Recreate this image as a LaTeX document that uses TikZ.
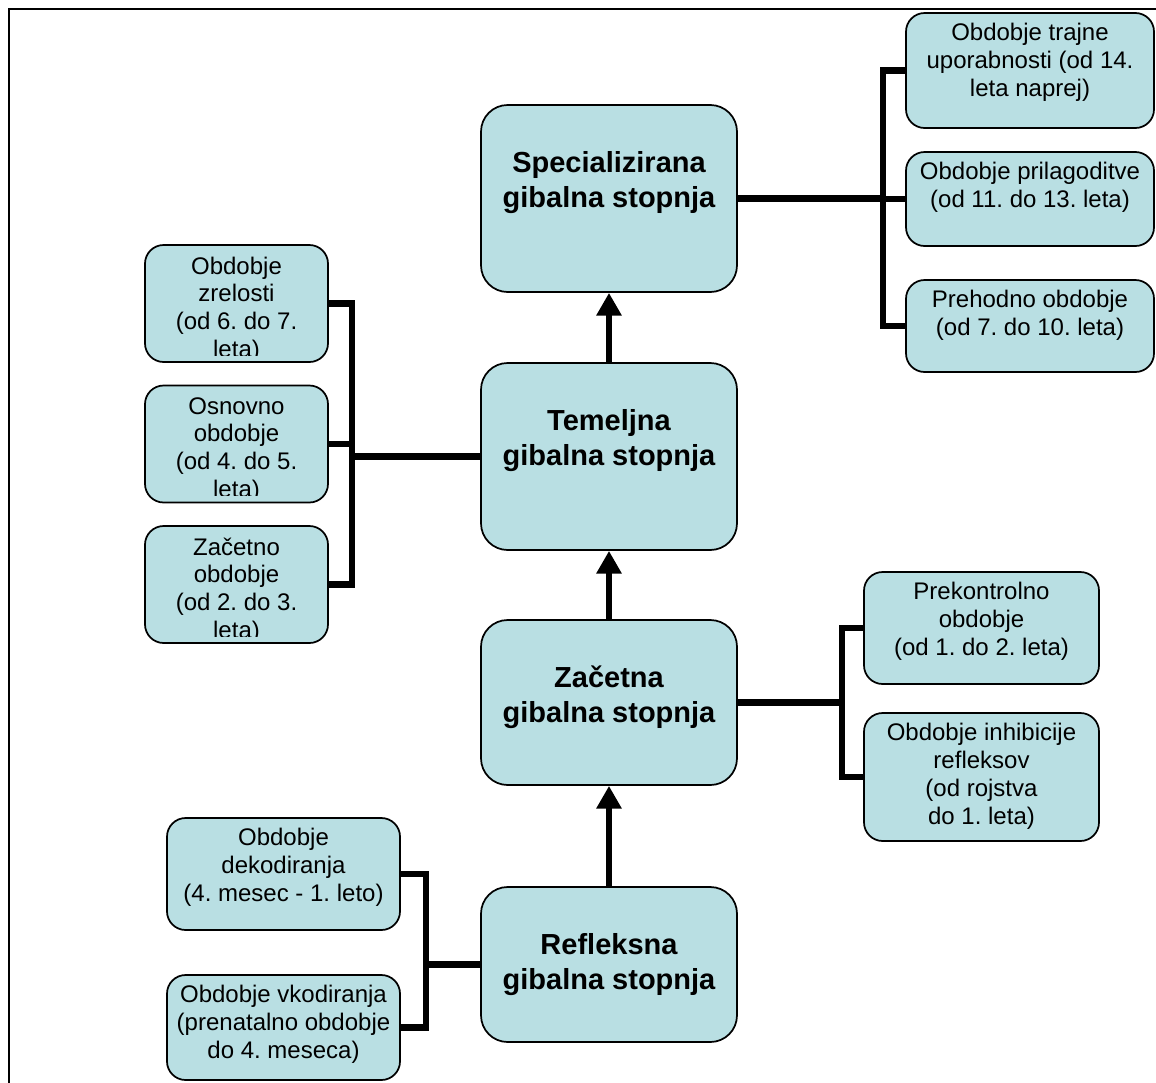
\documentclass[tikz,border=0pt]{standalone}
\usepackage{fontspec}
\setmainfont{Liberation Sans}
\usetikzlibrary{arrows.meta}
\definecolor{boxfill}{RGB}{185,223,227}
\tikzset{
 mainbox/.style={draw=black, line width=1.3pt, fill=boxfill, rounded corners=20pt, inner sep=0pt, minimum width=192pt},
 smallbox/.style={draw=black, line width=1.3pt, fill=boxfill, rounded corners=14pt, inner sep=0pt},
 maintext/.style={anchor=north, inner sep=0pt, align=center, font=\fontsize{21.75pt}{26.25pt}\selectfont\bfseries},
 smalltext/.style={anchor=north, inner sep=0pt, align=center, font=\fontsize{18pt}{21pt}\selectfont},
 tighttext/.style={anchor=north, inner sep=0pt, align=center, font=\fontsize{18pt}{20.8pt}\selectfont},
 link/.style={line width=4.6pt},
 uparrow/.style={line width=5pt, -{Triangle[width=18pt,length=17pt]}},
 framestyle/.style={line width=1.2pt}
}
\begin{document}
\frenchspacing
\begin{tikzpicture}[x=0.75pt,y=-0.75pt]
\useasboundingbox (0,0) rectangle (1156,1082);
\clip (0,0) rectangle (1156,1082);
\draw[framestyle] (9,1200) -- (9,9) -- (1300,9);

% main boxes
\node[mainbox, minimum height=140.25pt] (spec) at (609,198.5) {};
\node[mainbox, minimum height=140.25pt] (tem) at (609,456.5) {};
\node[mainbox, minimum height=123.75pt] (zac) at (609,702.5) {};
\node[mainbox, minimum height=116.25pt] (ref) at (609,964.5) {};
\node[maintext] (spectxt) at (609,151) {Specializirana\\gibalna stopnja};
\node[maintext] (temtxt) at (609,409) {Temeljna\\gibalna stopnja};
\node[maintext] (zactxt) at (609,666) {Začetna\\gibalna stopnja};
\node[maintext] (reftxt) at (609,933) {Refleksna\\gibalna stopnja};

% right group of Specializirana
\node[smallbox, minimum width=186pt, minimum height=86.25pt] (traj) at (1030,70.5) {};
\node[smallbox, minimum width=186pt, minimum height=70.5pt] (pril) at (1030,199) {};
\node[smallbox, minimum width=186pt, minimum height=69pt] (preh) at (1030,326) {};
\node[smalltext] (trajtxt) at (1030,22.5) {Obdobje trajne\\uporabnosti (od 14.\\leta naprej)};
\node[smalltext] (priltxt) at (1030,161.5) {Obdobje prilagoditve\\(od 11. do 13. leta)};
\node[smalltext] (prehtxt) at (1030,289.5) {Prehodno obdobje\\(od 7. do 10. leta)};

% left group of Temeljna
\node[smallbox, minimum width=137.25pt, minimum height=87.75pt] (zrel) at (236.5,303.5) {};
\node[smallbox, minimum width=137.25pt, minimum height=87.75pt] (osn) at (236.5,444) {};
\node[smallbox, minimum width=137.25pt, minimum height=87.75pt] (zacob) at (236.5,584.5) {};
\begin{scope}
\clip (145,247) rectangle (328,355);
\node[tighttext] (zreltxt) at (236.5,256.5) {Obdobje\\zrelosti\\(od 6. do 7.\\leta)};
\end{scope}
\begin{scope}
\clip (145,387) rectangle (328,495);
\node[tighttext] (osntxt) at (236.5,397) {Osnovno\\obdobje\\(od 4. do 5.\\leta)};
\end{scope}
\begin{scope}
\clip (145,528) rectangle (328,636);
\node[tighttext] (zacobtxt) at (236.5,537.5) {Začetno\\obdobje\\(od 2. do 3.\\leta)};
\end{scope}

% right group of Začetna
\node[smallbox, minimum width=176.25pt, minimum height=84pt] (prek) at (981.5,628) {};
\node[smallbox, minimum width=176.25pt, minimum height=96pt] (inh) at (981.5,777) {};
\node[smalltext] (prektxt) at (981.5,581.5) {Prekontrolno\\obdobje\\(od 1. do 2. leta)};
\node[smalltext] (inhtxt) at (981.5,722.5) {Obdobje inhibicije\\refleksov\\(od rojstva\\do 1. leta)};

% left group of Refleksna
\node[smallbox, minimum width=174.75pt, minimum height=84pt] (dek) at (283.5,874) {};
\node[smallbox, minimum width=174.75pt, minimum height=78.75pt] (vk) at (283.5,1027.5) {};
\node[smalltext] (dektxt) at (283.5,827.5) {Obdobje\\dekodiranja\\(4. mesec - 1. leto)};
\node[smalltext] (vktxt) at (283.5,984.5) {Obdobje vkodiranja\\(prenatalno obdobje\\do 4. meseca)};

% junctions
\coordinate (sj) at (883,198.5);
\coordinate (tj) at (352,456.5);
\coordinate (zj) at (842,702.5);
\coordinate (rj) at (426,964.5);

% brackets
\draw[link] (spec.east) -- (sj);
\draw[link] (traj.west) -| (sj);
\draw[link] (pril.west) -| (sj);
\draw[link] (preh.west) -| (sj);

\draw[link] (tem.west) -- (tj);
\draw[link] (zrel.east) -| (tj);
\draw[link] (osn.east) -| (tj);
\draw[link] (zacob.east) -| (tj);

\draw[link] (zac.east) -- (zj);
\draw[link] (prek.west) -| (zj);
\draw[link] (inh.west) -| (zj);

\draw[link] (ref.west) -- (rj);
\draw[link] (dek.east) -| (rj);
\draw[link] (vk.east) -| (rj);

% arrows
\draw[uparrow] (tem.north) -- (spec.south);
\draw[uparrow] (zac.north) -- (tem.south);
\draw[uparrow] (ref.north) -- (zac.south);
\end{tikzpicture}
\end{document}
